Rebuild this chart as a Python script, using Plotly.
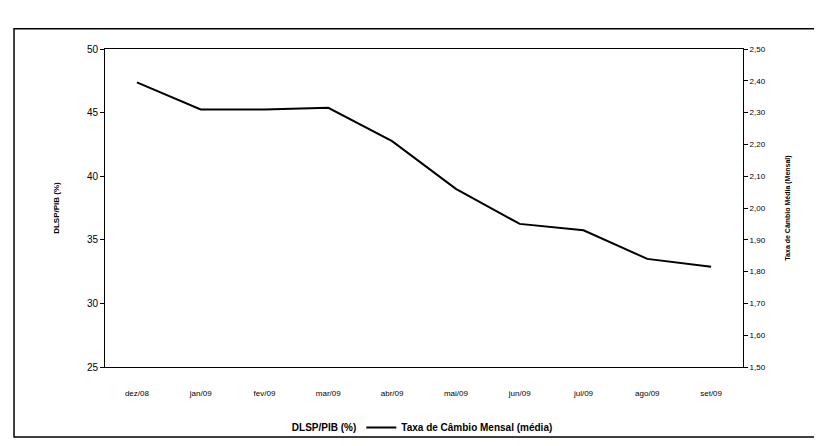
import plotly.graph_objects as go

months = ["dez/08", "jan/09", "fev/09", "mar/09", "abr/09", "mai/09",
          "jun/09", "jul/09", "ago/09", "set/09"]
cambio = [2.395, 2.31, 2.31, 2.315, 2.21, 2.06, 1.95, 1.93, 1.84, 1.815]
dlsp = [None]  # not legible in the scan

left_ticks = [25, 30, 35, 40, 45, 50]
right_ticks = [1.5, 1.6, 1.7, 1.8, 1.9, 2.0, 2.1, 2.2, 2.3, 2.4, 2.5]

font = "Liberation Sans, Arial, sans-serif"

fig = go.Figure()
fig.add_trace(go.Scatter(x=months[:len(dlsp)], y=dlsp, name="<b>DLSP/PIB (%)</b>",
                         mode="lines", line=dict(color="rgba(255,255,255,0)", width=2),
                         yaxis="y", showlegend=True))
fig.add_trace(go.Scatter(x=months, y=cambio, name="<b>Taxa de Câmbio Mensal (média)</b>",
                         mode="lines", line=dict(color="black", width=2),
                         yaxis="y2"))

fig.update_layout(
    width=822, height=446,
    margin=dict(l=97, r=87, t=41, b=78),
    paper_bgcolor="white", plot_bgcolor="white",
    separators=",.",
    font=dict(family=font, size=9, color="black"),
    showlegend=True,
    legend=dict(orientation="h", x=0.47, y=-0.19, xanchor="center", yanchor="middle",
                font=dict(size=10, family=font, color="black"),
                bgcolor="rgba(0,0,0,0)", tracegroupgap=0),
    xaxis=dict(type="category", categoryorder="array", categoryarray=months,
               range=[-0.5, 9.5], showgrid=False, showline=True, linecolor="black",
               linewidth=1, mirror=True, ticks="", tickfont=dict(size=8),
               ticklabelstandoff=18, zeroline=False),
    yaxis=dict(range=[25, 50], tickvals=left_ticks, showgrid=False, showline=True,
               linecolor="black", linewidth=1, ticks="outside", ticklen=4,
               tickcolor="black", zeroline=False, tickfont=dict(size=10),
               title=dict(text="<b>DLSP/PIB (%)</b>", font=dict(size=8), standoff=26)),
    yaxis2=dict(range=[1.5, 2.5], tickvals=right_ticks, tickformat=".2f",
                overlaying="y", side="right", showgrid=False, showline=True,
                linecolor="black", linewidth=1, ticks="outside", ticklen=4,
                tickcolor="black", zeroline=False, tickfont=dict(size=8),
                title=dict(text="<b>Taxa de Câmbio Média (Mensal)</b>",
                           font=dict(size=7), standoff=20)),
    shapes=[dict(type="rect", xref="paper", yref="paper",
                 x0=-0.1426, x1=1.13, y0=-0.22, y1=1.064,
                 line=dict(color="black", width=1.5), fillcolor="rgba(0,0,0,0)",
                 layer="below")],
)

fig.write_html("out.html")
